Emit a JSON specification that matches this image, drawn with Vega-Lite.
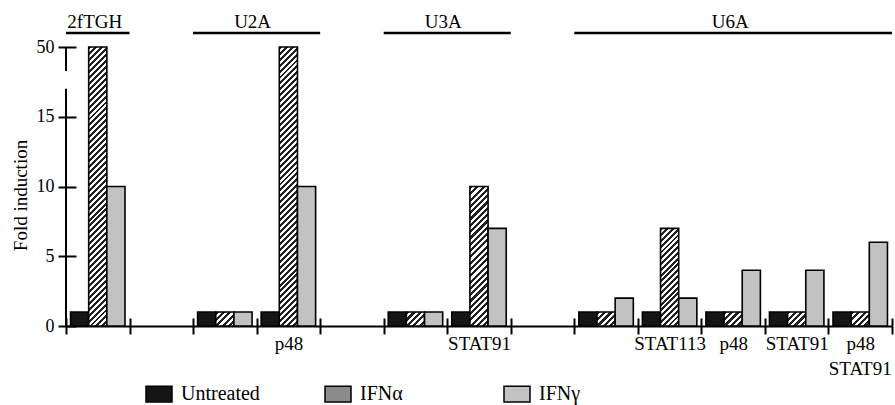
{
  "$schema": "https://vega.github.io/schema/vega-lite/v6.json",
  "width": 826,
  "height": 279,
  "autosize": {"type": "none"},
  "padding": {"left": 66, "top": 47, "right": 3, "bottom": 79},
  "background": "white",
  "config": {
    "font": "Liberation Serif",
    "view": {"stroke": null},
    "axis": {"labelFont": "Liberation Serif", "titleFont": "Liberation Serif", "grid": false},
    "legend": {"labelFont": "Liberation Serif"},
    "text": {"font": "Liberation Serif"}
  },
  "datasets": {
    "bars": [
      {"slot": "2fTGH", "treatment": "Untreated", "value": 1},
      {"slot": "2fTGH", "treatment": "IFNα", "value": 50},
      {"slot": "2fTGH", "treatment": "IFNγ", "value": 10},
      {"slot": "U2A", "treatment": "Untreated", "value": 1},
      {"slot": "U2A", "treatment": "IFNα", "value": 1},
      {"slot": "U2A", "treatment": "IFNγ", "value": 1},
      {"slot": "U2A|p48", "treatment": "Untreated", "value": 1},
      {"slot": "U2A|p48", "treatment": "IFNα", "value": 50},
      {"slot": "U2A|p48", "treatment": "IFNγ", "value": 10},
      {"slot": "U3A", "treatment": "Untreated", "value": 1},
      {"slot": "U3A", "treatment": "IFNα", "value": 1},
      {"slot": "U3A", "treatment": "IFNγ", "value": 1},
      {"slot": "U3A|STAT91", "treatment": "Untreated", "value": 1},
      {"slot": "U3A|STAT91", "treatment": "IFNα", "value": 10},
      {"slot": "U3A|STAT91", "treatment": "IFNγ", "value": 7},
      {"slot": "U6A", "treatment": "Untreated", "value": 1},
      {"slot": "U6A", "treatment": "IFNα", "value": 1},
      {"slot": "U6A", "treatment": "IFNγ", "value": 2},
      {"slot": "U6A|STAT113", "treatment": "Untreated", "value": 1},
      {"slot": "U6A|STAT113", "treatment": "IFNα", "value": 7},
      {"slot": "U6A|STAT113", "treatment": "IFNγ", "value": 2},
      {"slot": "U6A|p48", "treatment": "Untreated", "value": 1},
      {"slot": "U6A|p48", "treatment": "IFNα", "value": 1},
      {"slot": "U6A|p48", "treatment": "IFNγ", "value": 4},
      {"slot": "U6A|STAT91", "treatment": "Untreated", "value": 1},
      {"slot": "U6A|STAT91", "treatment": "IFNα", "value": 1},
      {"slot": "U6A|STAT91", "treatment": "IFNγ", "value": 4},
      {"slot": "U6A|p48|STAT91", "treatment": "Untreated", "value": 1},
      {"slot": "U6A|p48|STAT91", "treatment": "IFNα", "value": 1},
      {"slot": "U6A|p48|STAT91", "treatment": "IFNγ", "value": 6}
    ],
    "cells": [
      {"cell": "2fTGH", "first": "2fTGH", "last": "2fTGH", "mid": "2fTGH", "span": 1},
      {"cell": "U2A", "first": "U2A", "last": "U2A|p48", "mid": "U2A", "span": 2},
      {"cell": "U3A", "first": "U3A", "last": "U3A|STAT91", "mid": "U3A", "span": 2},
      {"cell": "U6A", "first": "U6A", "last": "U6A|p48|STAT91", "mid": "U6A|p48", "span": 5}
    ],
    "secondline": [
      {"slot": "U6A|p48|STAT91", "label": "STAT91"}
    ],
    "yaxisline": [
      {"lo": 0, "hi": 29},
      {"lo": 38, "hi": 50}
    ]
  },
  "layer": [
    {
      "data": {"name": "bars"},
      "mark": {"type": "bar", "stroke": "black", "strokeWidth": 1.6},
      "encoding": {
        "x": {
          "field": "slot", "type": "nominal", "sort": null,
          "scale": {"type": "band", "domain": ["2fTGH", "gap1", "U2A", "U2A|p48", "gap2", "U3A", "U3A|STAT91", "gap3", "U6A", "U6A|STAT113", "U6A|p48", "U6A|STAT91", "U6A|p48|STAT91"], "paddingInner": 0, "paddingOuter": 0},
          "axis": {"orient": "bottom", "domain": true, "domainColor": "black", "domainWidth": 2, "tickBand": "extent", "tickSize": 8, "tickWidth": 2, "tickColor": "black", "labelExpr": "split(datum.value, '|')[1] || ''", "labelFontSize": 19, "labelColor": "black", "labelPadding": 0, "labelAngle": 0, "labelLimit": 200, "title": null}
        },
        "xOffset": {
          "field": "treatment", "type": "nominal", "sort": null,
          "scale": {"domain": ["Untreated", "IFNα", "IFNγ"], "paddingInner": 0, "paddingOuter": 0.25}
        },
        "y": {
          "field": "value", "type": "quantitative",
          "scale": {"domain": [0, 15, 50], "range": [279, 69.75, 0], "nice": false, "zero": false},
          "axis": {"orient": "left", "values": [0, 5, 10, 15, 50], "domain": false, "tickSize": 8, "tickWidth": 2, "tickColor": "black", "labelFontSize": 18, "labelColor": "black", "labelPadding": 4, "title": "Fold induction", "titleFontSize": 19, "titleFontWeight": "normal", "titleColor": "black", "titleX": -46, "titleY": 148, "titleAngle": -90, "titleAlign": "center", "titleBaseline": "middle"}
        },
        "fill": {
          "field": "treatment", "type": "nominal",
          "scale": {"domain": ["Untreated", "IFNα", "IFNγ"], "range": ["#151515", "#8c8c8c", "#c2c2c2"]},
          "condition": [
            {"test": "datum.treatment === 'IFNα' && datum.value === 50", "value": {"gradient": "linear", "x1": 0, "y1": 0, "x2": 0.069, "y2": 1.0606, "stops": [
              {"offset": 0, "color": "#222"}, {"offset": 0.01, "color": "#222"}, {"offset": 0.01, "color": "#fff"}, {"offset": 0.02, "color": "#fff"},
              {"offset": 0.02, "color": "#222"}, {"offset": 0.03, "color": "#222"}, {"offset": 0.03, "color": "#fff"}, {"offset": 0.04, "color": "#fff"},
              {"offset": 0.04, "color": "#222"}, {"offset": 0.05, "color": "#222"}, {"offset": 0.05, "color": "#fff"}, {"offset": 0.06, "color": "#fff"},
              {"offset": 0.06, "color": "#222"}, {"offset": 0.07, "color": "#222"}, {"offset": 0.07, "color": "#fff"}, {"offset": 0.08, "color": "#fff"},
              {"offset": 0.08, "color": "#222"}, {"offset": 0.09, "color": "#222"}, {"offset": 0.09, "color": "#fff"}, {"offset": 0.1, "color": "#fff"},
              {"offset": 0.1, "color": "#222"}, {"offset": 0.11, "color": "#222"}, {"offset": 0.11, "color": "#fff"}, {"offset": 0.12, "color": "#fff"},
              {"offset": 0.12, "color": "#222"}, {"offset": 0.13, "color": "#222"}, {"offset": 0.13, "color": "#fff"}, {"offset": 0.14, "color": "#fff"},
              {"offset": 0.14, "color": "#222"}, {"offset": 0.15, "color": "#222"}, {"offset": 0.15, "color": "#fff"}, {"offset": 0.16, "color": "#fff"},
              {"offset": 0.16, "color": "#222"}, {"offset": 0.17, "color": "#222"}, {"offset": 0.17, "color": "#fff"}, {"offset": 0.18, "color": "#fff"},
              {"offset": 0.18, "color": "#222"}, {"offset": 0.19, "color": "#222"}, {"offset": 0.19, "color": "#fff"}, {"offset": 0.2, "color": "#fff"},
              {"offset": 0.2, "color": "#222"}, {"offset": 0.21, "color": "#222"}, {"offset": 0.21, "color": "#fff"}, {"offset": 0.22, "color": "#fff"},
              {"offset": 0.22, "color": "#222"}, {"offset": 0.23, "color": "#222"}, {"offset": 0.23, "color": "#fff"}, {"offset": 0.24, "color": "#fff"},
              {"offset": 0.24, "color": "#222"}, {"offset": 0.25, "color": "#222"}, {"offset": 0.25, "color": "#fff"}, {"offset": 0.26, "color": "#fff"},
              {"offset": 0.26, "color": "#222"}, {"offset": 0.27, "color": "#222"}, {"offset": 0.27, "color": "#fff"}, {"offset": 0.28, "color": "#fff"},
              {"offset": 0.28, "color": "#222"}, {"offset": 0.29, "color": "#222"}, {"offset": 0.29, "color": "#fff"}, {"offset": 0.3, "color": "#fff"},
              {"offset": 0.3, "color": "#222"}, {"offset": 0.31, "color": "#222"}, {"offset": 0.31, "color": "#fff"}, {"offset": 0.32, "color": "#fff"},
              {"offset": 0.32, "color": "#222"}, {"offset": 0.33, "color": "#222"}, {"offset": 0.33, "color": "#fff"}, {"offset": 0.34, "color": "#fff"},
              {"offset": 0.34, "color": "#222"}, {"offset": 0.35, "color": "#222"}, {"offset": 0.35, "color": "#fff"}, {"offset": 0.36, "color": "#fff"},
              {"offset": 0.36, "color": "#222"}, {"offset": 0.37, "color": "#222"}, {"offset": 0.37, "color": "#fff"}, {"offset": 0.38, "color": "#fff"},
              {"offset": 0.38, "color": "#222"}, {"offset": 0.39, "color": "#222"}, {"offset": 0.39, "color": "#fff"}, {"offset": 0.4, "color": "#fff"},
              {"offset": 0.4, "color": "#222"}, {"offset": 0.41, "color": "#222"}, {"offset": 0.41, "color": "#fff"}, {"offset": 0.42, "color": "#fff"},
              {"offset": 0.42, "color": "#222"}, {"offset": 0.43, "color": "#222"}, {"offset": 0.43, "color": "#fff"}, {"offset": 0.44, "color": "#fff"},
              {"offset": 0.44, "color": "#222"}, {"offset": 0.45, "color": "#222"}, {"offset": 0.45, "color": "#fff"}, {"offset": 0.46, "color": "#fff"},
              {"offset": 0.46, "color": "#222"}, {"offset": 0.47, "color": "#222"}, {"offset": 0.47, "color": "#fff"}, {"offset": 0.48, "color": "#fff"},
              {"offset": 0.48, "color": "#222"}, {"offset": 0.49, "color": "#222"}, {"offset": 0.49, "color": "#fff"}, {"offset": 0.5, "color": "#fff"},
              {"offset": 0.5, "color": "#222"}, {"offset": 0.51, "color": "#222"}, {"offset": 0.51, "color": "#fff"}, {"offset": 0.52, "color": "#fff"},
              {"offset": 0.52, "color": "#222"}, {"offset": 0.53, "color": "#222"}, {"offset": 0.53, "color": "#fff"}, {"offset": 0.54, "color": "#fff"},
              {"offset": 0.54, "color": "#222"}, {"offset": 0.55, "color": "#222"}, {"offset": 0.55, "color": "#fff"}, {"offset": 0.56, "color": "#fff"},
              {"offset": 0.56, "color": "#222"}, {"offset": 0.57, "color": "#222"}, {"offset": 0.57, "color": "#fff"}, {"offset": 0.58, "color": "#fff"},
              {"offset": 0.58, "color": "#222"}, {"offset": 0.59, "color": "#222"}, {"offset": 0.59, "color": "#fff"}, {"offset": 0.6, "color": "#fff"},
              {"offset": 0.6, "color": "#222"}, {"offset": 0.61, "color": "#222"}, {"offset": 0.61, "color": "#fff"}, {"offset": 0.62, "color": "#fff"},
              {"offset": 0.62, "color": "#222"}, {"offset": 0.63, "color": "#222"}, {"offset": 0.63, "color": "#fff"}, {"offset": 0.64, "color": "#fff"},
              {"offset": 0.64, "color": "#222"}, {"offset": 0.65, "color": "#222"}, {"offset": 0.65, "color": "#fff"}, {"offset": 0.66, "color": "#fff"},
              {"offset": 0.66, "color": "#222"}, {"offset": 0.67, "color": "#222"}, {"offset": 0.67, "color": "#fff"}, {"offset": 0.68, "color": "#fff"},
              {"offset": 0.68, "color": "#222"}, {"offset": 0.69, "color": "#222"}, {"offset": 0.69, "color": "#fff"}, {"offset": 0.7, "color": "#fff"},
              {"offset": 0.7, "color": "#222"}, {"offset": 0.71, "color": "#222"}, {"offset": 0.71, "color": "#fff"}, {"offset": 0.72, "color": "#fff"},
              {"offset": 0.72, "color": "#222"}, {"offset": 0.73, "color": "#222"}, {"offset": 0.73, "color": "#fff"}, {"offset": 0.74, "color": "#fff"},
              {"offset": 0.74, "color": "#222"}, {"offset": 0.75, "color": "#222"}, {"offset": 0.75, "color": "#fff"}, {"offset": 0.76, "color": "#fff"},
              {"offset": 0.76, "color": "#222"}, {"offset": 0.77, "color": "#222"}, {"offset": 0.77, "color": "#fff"}, {"offset": 0.78, "color": "#fff"},
              {"offset": 0.78, "color": "#222"}, {"offset": 0.79, "color": "#222"}, {"offset": 0.79, "color": "#fff"}, {"offset": 0.8, "color": "#fff"},
              {"offset": 0.8, "color": "#222"}, {"offset": 0.81, "color": "#222"}, {"offset": 0.81, "color": "#fff"}, {"offset": 0.82, "color": "#fff"},
              {"offset": 0.82, "color": "#222"}, {"offset": 0.83, "color": "#222"}, {"offset": 0.83, "color": "#fff"}, {"offset": 0.84, "color": "#fff"},
              {"offset": 0.84, "color": "#222"}, {"offset": 0.85, "color": "#222"}, {"offset": 0.85, "color": "#fff"}, {"offset": 0.86, "color": "#fff"},
              {"offset": 0.86, "color": "#222"}, {"offset": 0.87, "color": "#222"}, {"offset": 0.87, "color": "#fff"}, {"offset": 0.88, "color": "#fff"},
              {"offset": 0.88, "color": "#222"}, {"offset": 0.89, "color": "#222"}, {"offset": 0.89, "color": "#fff"}, {"offset": 0.9, "color": "#fff"},
              {"offset": 0.9, "color": "#222"}, {"offset": 0.91, "color": "#222"}, {"offset": 0.91, "color": "#fff"}, {"offset": 0.92, "color": "#fff"},
              {"offset": 0.92, "color": "#222"}, {"offset": 0.93, "color": "#222"}, {"offset": 0.93, "color": "#fff"}, {"offset": 0.94, "color": "#fff"},
              {"offset": 0.94, "color": "#222"}, {"offset": 0.95, "color": "#222"}, {"offset": 0.95, "color": "#fff"}, {"offset": 0.96, "color": "#fff"},
              {"offset": 0.96, "color": "#222"}, {"offset": 0.97, "color": "#222"}, {"offset": 0.97, "color": "#fff"}, {"offset": 0.98, "color": "#fff"},
              {"offset": 0.98, "color": "#222"}, {"offset": 0.99, "color": "#222"}, {"offset": 0.99, "color": "#fff"}, {"offset": 1, "color": "#fff"}
            ]}},
            {"test": "datum.treatment === 'IFNα' && datum.value === 10", "value": {"gradient": "linear", "x1": 0, "y1": 0, "x2": 0.1446, "y2": 1.1112, "stops": [
              {"offset": 0, "color": "#222"}, {"offset": 0.02, "color": "#222"}, {"offset": 0.02, "color": "#fff"}, {"offset": 0.04, "color": "#fff"},
              {"offset": 0.04, "color": "#222"}, {"offset": 0.06, "color": "#222"}, {"offset": 0.06, "color": "#fff"}, {"offset": 0.08, "color": "#fff"},
              {"offset": 0.08, "color": "#222"}, {"offset": 0.1, "color": "#222"}, {"offset": 0.1, "color": "#fff"}, {"offset": 0.12, "color": "#fff"},
              {"offset": 0.12, "color": "#222"}, {"offset": 0.14, "color": "#222"}, {"offset": 0.14, "color": "#fff"}, {"offset": 0.16, "color": "#fff"},
              {"offset": 0.16, "color": "#222"}, {"offset": 0.18, "color": "#222"}, {"offset": 0.18, "color": "#fff"}, {"offset": 0.2, "color": "#fff"},
              {"offset": 0.2, "color": "#222"}, {"offset": 0.22, "color": "#222"}, {"offset": 0.22, "color": "#fff"}, {"offset": 0.24, "color": "#fff"},
              {"offset": 0.24, "color": "#222"}, {"offset": 0.26, "color": "#222"}, {"offset": 0.26, "color": "#fff"}, {"offset": 0.28, "color": "#fff"},
              {"offset": 0.28, "color": "#222"}, {"offset": 0.3, "color": "#222"}, {"offset": 0.3, "color": "#fff"}, {"offset": 0.32, "color": "#fff"},
              {"offset": 0.32, "color": "#222"}, {"offset": 0.34, "color": "#222"}, {"offset": 0.34, "color": "#fff"}, {"offset": 0.36, "color": "#fff"},
              {"offset": 0.36, "color": "#222"}, {"offset": 0.38, "color": "#222"}, {"offset": 0.38, "color": "#fff"}, {"offset": 0.4, "color": "#fff"},
              {"offset": 0.4, "color": "#222"}, {"offset": 0.42, "color": "#222"}, {"offset": 0.42, "color": "#fff"}, {"offset": 0.44, "color": "#fff"},
              {"offset": 0.44, "color": "#222"}, {"offset": 0.46, "color": "#222"}, {"offset": 0.46, "color": "#fff"}, {"offset": 0.48, "color": "#fff"},
              {"offset": 0.48, "color": "#222"}, {"offset": 0.5, "color": "#222"}, {"offset": 0.5, "color": "#fff"}, {"offset": 0.52, "color": "#fff"},
              {"offset": 0.52, "color": "#222"}, {"offset": 0.54, "color": "#222"}, {"offset": 0.54, "color": "#fff"}, {"offset": 0.56, "color": "#fff"},
              {"offset": 0.56, "color": "#222"}, {"offset": 0.58, "color": "#222"}, {"offset": 0.58, "color": "#fff"}, {"offset": 0.6, "color": "#fff"},
              {"offset": 0.6, "color": "#222"}, {"offset": 0.62, "color": "#222"}, {"offset": 0.62, "color": "#fff"}, {"offset": 0.64, "color": "#fff"},
              {"offset": 0.64, "color": "#222"}, {"offset": 0.66, "color": "#222"}, {"offset": 0.66, "color": "#fff"}, {"offset": 0.68, "color": "#fff"},
              {"offset": 0.68, "color": "#222"}, {"offset": 0.7, "color": "#222"}, {"offset": 0.7, "color": "#fff"}, {"offset": 0.72, "color": "#fff"},
              {"offset": 0.72, "color": "#222"}, {"offset": 0.74, "color": "#222"}, {"offset": 0.74, "color": "#fff"}, {"offset": 0.76, "color": "#fff"},
              {"offset": 0.76, "color": "#222"}, {"offset": 0.78, "color": "#222"}, {"offset": 0.78, "color": "#fff"}, {"offset": 0.8, "color": "#fff"},
              {"offset": 0.8, "color": "#222"}, {"offset": 0.82, "color": "#222"}, {"offset": 0.82, "color": "#fff"}, {"offset": 0.84, "color": "#fff"},
              {"offset": 0.84, "color": "#222"}, {"offset": 0.86, "color": "#222"}, {"offset": 0.86, "color": "#fff"}, {"offset": 0.88, "color": "#fff"},
              {"offset": 0.88, "color": "#222"}, {"offset": 0.9, "color": "#222"}, {"offset": 0.9, "color": "#fff"}, {"offset": 0.92, "color": "#fff"},
              {"offset": 0.92, "color": "#222"}, {"offset": 0.94, "color": "#222"}, {"offset": 0.94, "color": "#fff"}, {"offset": 0.96, "color": "#fff"},
              {"offset": 0.96, "color": "#222"}, {"offset": 0.98, "color": "#222"}, {"offset": 0.98, "color": "#fff"}, {"offset": 1, "color": "#fff"}
            ]}},
            {"test": "datum.treatment === 'IFNα' && datum.value === 7", "value": {"gradient": "linear", "x1": 0, "y1": 0, "x2": 0.213, "y2": 1.1461, "stops": [
              {"offset": 0, "color": "#222"}, {"offset": 0.025, "color": "#222"}, {"offset": 0.025, "color": "#fff"}, {"offset": 0.05, "color": "#fff"},
              {"offset": 0.05, "color": "#222"}, {"offset": 0.075, "color": "#222"}, {"offset": 0.075, "color": "#fff"}, {"offset": 0.1, "color": "#fff"},
              {"offset": 0.1, "color": "#222"}, {"offset": 0.125, "color": "#222"}, {"offset": 0.125, "color": "#fff"}, {"offset": 0.15, "color": "#fff"},
              {"offset": 0.15, "color": "#222"}, {"offset": 0.175, "color": "#222"}, {"offset": 0.175, "color": "#fff"}, {"offset": 0.2, "color": "#fff"},
              {"offset": 0.2, "color": "#222"}, {"offset": 0.225, "color": "#222"}, {"offset": 0.225, "color": "#fff"}, {"offset": 0.25, "color": "#fff"},
              {"offset": 0.25, "color": "#222"}, {"offset": 0.275, "color": "#222"}, {"offset": 0.275, "color": "#fff"}, {"offset": 0.3, "color": "#fff"},
              {"offset": 0.3, "color": "#222"}, {"offset": 0.325, "color": "#222"}, {"offset": 0.325, "color": "#fff"}, {"offset": 0.35, "color": "#fff"},
              {"offset": 0.35, "color": "#222"}, {"offset": 0.375, "color": "#222"}, {"offset": 0.375, "color": "#fff"}, {"offset": 0.4, "color": "#fff"},
              {"offset": 0.4, "color": "#222"}, {"offset": 0.425, "color": "#222"}, {"offset": 0.425, "color": "#fff"}, {"offset": 0.45, "color": "#fff"},
              {"offset": 0.45, "color": "#222"}, {"offset": 0.475, "color": "#222"}, {"offset": 0.475, "color": "#fff"}, {"offset": 0.5, "color": "#fff"},
              {"offset": 0.5, "color": "#222"}, {"offset": 0.525, "color": "#222"}, {"offset": 0.525, "color": "#fff"}, {"offset": 0.55, "color": "#fff"},
              {"offset": 0.55, "color": "#222"}, {"offset": 0.575, "color": "#222"}, {"offset": 0.575, "color": "#fff"}, {"offset": 0.6, "color": "#fff"},
              {"offset": 0.6, "color": "#222"}, {"offset": 0.625, "color": "#222"}, {"offset": 0.625, "color": "#fff"}, {"offset": 0.65, "color": "#fff"},
              {"offset": 0.65, "color": "#222"}, {"offset": 0.675, "color": "#222"}, {"offset": 0.675, "color": "#fff"}, {"offset": 0.7, "color": "#fff"},
              {"offset": 0.7, "color": "#222"}, {"offset": 0.725, "color": "#222"}, {"offset": 0.725, "color": "#fff"}, {"offset": 0.75, "color": "#fff"},
              {"offset": 0.75, "color": "#222"}, {"offset": 0.775, "color": "#222"}, {"offset": 0.775, "color": "#fff"}, {"offset": 0.8, "color": "#fff"},
              {"offset": 0.8, "color": "#222"}, {"offset": 0.825, "color": "#222"}, {"offset": 0.825, "color": "#fff"}, {"offset": 0.85, "color": "#fff"},
              {"offset": 0.85, "color": "#222"}, {"offset": 0.875, "color": "#222"}, {"offset": 0.875, "color": "#fff"}, {"offset": 0.9, "color": "#fff"},
              {"offset": 0.9, "color": "#222"}, {"offset": 0.925, "color": "#222"}, {"offset": 0.925, "color": "#fff"}, {"offset": 0.95, "color": "#fff"},
              {"offset": 0.95, "color": "#222"}, {"offset": 0.975, "color": "#222"}, {"offset": 0.975, "color": "#fff"}, {"offset": 1, "color": "#fff"}
            ]}},
            {"test": "datum.treatment === 'IFNα' && datum.value === 1", "value": {"gradient": "linear", "x1": 0, "y1": 0, "x2": 1.1118, "y2": 0.8546, "stops": [
              {"offset": 0, "color": "#222"}, {"offset": 0.1, "color": "#222"}, {"offset": 0.1, "color": "#fff"}, {"offset": 0.2, "color": "#fff"},
              {"offset": 0.2, "color": "#222"}, {"offset": 0.3, "color": "#222"}, {"offset": 0.3, "color": "#fff"}, {"offset": 0.4, "color": "#fff"},
              {"offset": 0.4, "color": "#222"}, {"offset": 0.5, "color": "#222"}, {"offset": 0.5, "color": "#fff"}, {"offset": 0.6, "color": "#fff"},
              {"offset": 0.6, "color": "#222"}, {"offset": 0.7, "color": "#222"}, {"offset": 0.7, "color": "#fff"}, {"offset": 0.8, "color": "#fff"},
              {"offset": 0.8, "color": "#222"}, {"offset": 0.9, "color": "#222"}, {"offset": 0.9, "color": "#fff"}, {"offset": 1, "color": "#fff"}
            ]}}
          ],
          "legend": {
            "orient": "none", "legendX": 79, "legendY": 333, "direction": "horizontal", "columns": 3, "gridAlign": "all", "columnPadding": 62, "title": null,
            "symbolType": "M-1,-0.6H1V0.6H-1Z", "symbolSize": 676, "symbolStrokeColor": "black", "symbolStrokeWidth": 1.5, "symbolOpacity": 1,
            "labelFontSize": 20, "labelColor": "black", "labelOffset": 8, "labelLimit": 200
          }
        }
      }
    },
    {
      "data": {"name": "yaxisline"},
      "mark": {"type": "rule", "stroke": "black", "strokeWidth": 2},
      "encoding": {
        "x": {"datum": "2fTGH", "type": "nominal", "bandPosition": 0, "axis": {"orient": "bottom", "tickBand": "extent", "tickSize": -8, "tickWidth": 2, "tickColor": "black", "labels": false, "domain": false, "title": null}},
        "y": {"field": "lo", "type": "quantitative", "axis": {"orient": "left", "values": [0, 5, 10, 15, 50], "tickSize": -10, "tickWidth": 2, "tickColor": "black", "labels": false, "domain": false, "title": null}},
        "y2": {"field": "hi"}
      }
    },
    {
      "data": {"name": "secondline"},
      "mark": {"type": "text", "fontSize": 19, "color": "black", "baseline": "alphabetic", "align": "center"},
      "encoding": {
        "x": {"field": "slot", "type": "nominal", "axis": null},
        "y": {"datum": -3.5, "type": "quantitative", "axis": null},
        "text": {"field": "label"}
      }
    },
    {
      "data": {"name": "cells"},
      "mark": {"type": "rule", "stroke": "black", "strokeWidth": 2.5},
      "encoding": {
        "x": {"field": "first", "type": "nominal", "bandPosition": 0, "axis": null},
        "x2": {"field": "last", "bandPosition": 1},
        "y": {"datum": 57, "type": "quantitative", "axis": null}
      }
    },
    {
      "data": {"name": "cells"},
      "transform": [{"filter": "datum.span % 2 === 1"}],
      "mark": {"type": "text", "fontSize": 19, "color": "black", "baseline": "alphabetic", "align": "center", "dx": -3},
      "encoding": {
        "x": {"field": "mid", "type": "nominal", "bandPosition": 0.5, "axis": null},
        "y": {"datum": 59.5, "type": "quantitative", "axis": null},
        "text": {"field": "cell"}
      }
    },
    {
      "data": {"name": "cells"},
      "transform": [{"filter": "datum.span % 2 === 0"}],
      "mark": {"type": "text", "fontSize": 19, "color": "black", "baseline": "alphabetic", "align": "center", "dx": -4},
      "encoding": {
        "x": {"field": "mid", "type": "nominal", "bandPosition": 1, "axis": null},
        "y": {"datum": 59.5, "type": "quantitative", "axis": null},
        "text": {"field": "cell"}
      }
    }
  ],
  "resolve": {"axis": {"x": "independent", "y": "independent"}}
}
